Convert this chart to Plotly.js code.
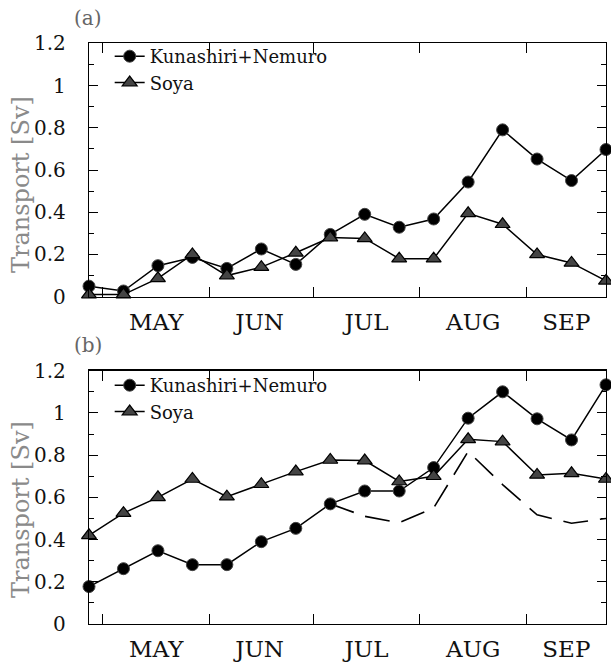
<!DOCTYPE html>
<html>
<head>
<meta charset="utf-8">
<script src="https://cdn.plot.ly/plotly-3.0.1.min.js"></script>
<style>html,body{margin:0;padding:0;background:#fff;}#chart{width:611px;height:666px;}</style>
</head>
<body>
<div id="chart"></div>
<script>
// Day of year (center of each 10-day period)
const days = [117,127,137,147,157,167,177,187,197,207,217,227,237,247,257,267];

// Panel (a)
const kunashiriA = [0.05,0.027,0.147,0.186,0.134,0.226,0.153,0.295,0.39,0.329,0.368,0.543,0.79,0.652,0.55,0.697];
const soyaA      = [0.01,0.01,0.087,0.20,0.10,0.14,0.208,0.28,0.276,0.18,0.18,0.395,0.343,0.20,0.16,0.075];

// Panel (b)
const kunashiriB = [0.177,0.262,0.347,0.281,0.281,0.39,0.453,0.569,0.63,0.63,0.741,0.975,1.10,0.972,0.872,1.133];
const soyaB      = [0.42,0.525,0.60,0.687,0.603,0.662,0.722,0.777,0.774,0.675,0.70,0.875,0.864,0.706,0.714,0.687];
const dashedDays = [187,197,207,217,227,237,247,257,267];
const dashedB    = [0.569,0.51,0.48,0.55,0.817,0.66,0.517,0.477,0.50];

// Axis ticks
const monthStarts = [121,152,182,213,244];
const monthLabelPos = [136.5,166.5,197.5,228.5,255.5];
const monthLabels = ['MAY','JUN','JUL','AUG','SEP'];

const FONT = 'DejaVu Serif, Liberation Serif, serif';

function kTrace(y, xa, ya, leg) {
  return {x: days, y: y, xaxis: xa, yaxis: ya, name: 'Kunashiri+Nemuro', legend: leg,
    mode: 'lines+markers', cliponaxis: false,
    line: {color: '#000', width: 1.5},
    marker: {symbol: 'circle', size: 12, color: '#000', line: {color: '#444', width: 1}}};
}
function sTrace(y, xa, ya, leg) {
  return {x: days, y: y, xaxis: xa, yaxis: ya, name: 'Soya', legend: leg,
    mode: 'lines+markers', cliponaxis: false,
    line: {color: '#000', width: 1.5},
    marker: {symbol: 'triangle-up', size: 13, color: '#444', line: {color: '#000', width: 1.2}}};
}

const traces = [
  kTrace(kunashiriA, 'x', 'y', 'legend'),
  sTrace(soyaA, 'x', 'y', 'legend'),
  {x: dashedDays, y: dashedB, xaxis: 'x2', yaxis: 'y2', mode: 'lines', showlegend: false,
    line: {color: '#000', width: 1.6, dash: '25px,12px'}},
  kTrace(kunashiriB, 'x2', 'y2', 'legend2'),
  sTrace(soyaB, 'x2', 'y2', 'legend2')
];

function xAxis(anchor) {
  return {anchor: anchor, range: [117, 267], showgrid: false, zeroline: false,
    showline: true, linecolor: '#000', linewidth: 1.2, mirror: 'ticks',
    tickmode: 'array', tickvals: monthLabelPos, ticktext: monthLabels, ticks: '',
    ticklabelstandoff: 4,
    tickfont: {family: FONT, size: 23, color: '#111'},
    minor: {tickmode: 'array', tickvals: monthStarts, ticks: 'inside', ticklen: 10, tickcolor: '#000', tickwidth: 1}};
}
function yAxis(anchor, domain) {
  return {anchor: anchor, domain: domain, range: [0, 1.2], showgrid: false, zeroline: false,
    showline: true, linecolor: '#000', linewidth: 1.2, mirror: 'ticks',
    dtick: 0.2, tick0: 0, ticks: 'inside', ticklen: 9, tickcolor: '#000', tickwidth: 1,
    ticklabelstandoff: 18,
    tickfont: {family: FONT, size: 20, color: '#111'},
    minor: {dtick: 0.1, ticks: 'inside', ticklen: 5, tickcolor: '#000', tickwidth: 1}};
}

const legendCommon = {x: 0.04, xanchor: 'left', yanchor: 'top', bgcolor: 'rgba(0,0,0,0)',
  borderwidth: 0, font: {family: FONT, size: 18, color: '#111'}, itemwidth: 30, tracegroupgap: 0};

const layout = {
  width: 611, height: 666,
  margin: {l: 89, r: 5, t: 0, b: 0},
  paper_bgcolor: '#fff', plot_bgcolor: 'rgba(0,0,0,0)',
  font: {family: FONT},
  xaxis: xAxis('y'),
  yaxis: yAxis('x', [0.5545, 0.935]),
  xaxis2: xAxis('y2'),
  yaxis2: yAxis('x2', [0.0631, 0.4434]),
  legend: Object.assign({}, legendCommon, {y: 1 - 38/666}),
  legend2: Object.assign({}, legendCommon, {y: 1 - 367/666}),
  annotations: [
    {text: 'Transport [Sv]', xref: 'paper', yref: 'paper', x: (21-89)/517, y: 1 - 185/666,
      textangle: -90, showarrow: false, xanchor: 'center', yanchor: 'middle',
      font: {family: FONT, size: 24, color: '#8a8a8a'}},
    {text: 'Transport [Sv]', xref: 'paper', yref: 'paper', x: (21-89)/517, y: 1 - 510/666,
      textangle: -90, showarrow: false, xanchor: 'center', yanchor: 'middle',
      font: {family: FONT, size: 24, color: '#8a8a8a'}},
    {text: '(a)', xref: 'paper', yref: 'paper', x: (88-89)/517, y: 1 - 18/666,
      showarrow: false, xanchor: 'center', yanchor: 'middle',
      font: {family: FONT, size: 20, color: '#666'}},
    {text: '(b)', xref: 'paper', yref: 'paper', x: (88-89)/517, y: 1 - 345/666,
      showarrow: false, xanchor: 'center', yanchor: 'middle',
      font: {family: FONT, size: 20, color: '#666'}}
  ],
  showlegend: true
};

Plotly.newPlot('chart', traces, layout, {staticPlot: true, displayModeBar: false});
</script>
</body>
</html>
